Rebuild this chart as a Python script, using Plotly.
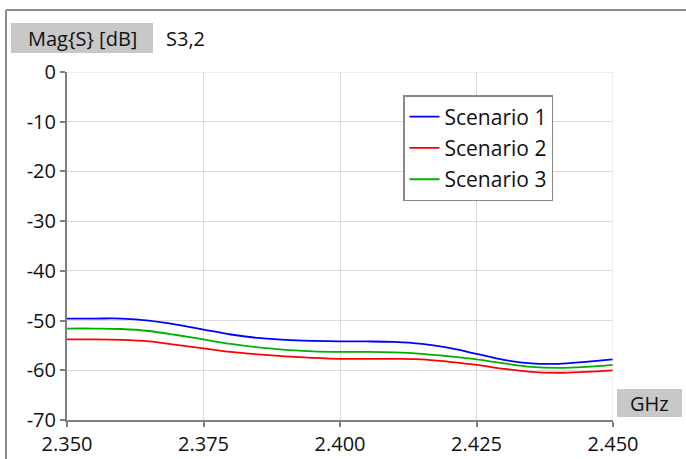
import plotly.graph_objects as go

freq = [2.350, 2.355, 2.360, 2.365, 2.370, 2.375, 2.380, 2.385, 2.390, 2.395, 2.400,
        2.405, 2.410, 2.415, 2.420, 2.425, 2.430, 2.435, 2.440, 2.445, 2.450]
scenario1 = [-49.6, -49.6, -49.6, -50.0, -50.8, -51.8, -52.8, -53.5, -53.9, -54.1, -54.2,
             -54.2, -54.3, -54.7, -55.5, -56.7, -57.9, -58.6, -58.7, -58.3, -57.8]
scenario2 = [-53.8, -53.8, -53.9, -54.2, -54.9, -55.6, -56.3, -56.8, -57.2, -57.5, -57.7,
             -57.7, -57.7, -57.8, -58.3, -58.9, -59.7, -60.3, -60.5, -60.3, -60.0]
scenario3 = [-51.6, -51.6, -51.7, -52.1, -52.9, -53.8, -54.7, -55.4, -55.9, -56.2, -56.3,
             -56.3, -56.4, -56.7, -57.2, -57.8, -58.6, -59.3, -59.5, -59.3, -58.9]
names = ["Scenario 1", "Scenario 2", "Scenario 3"]
colors = ["#0000ff", "#ff0000", "#00b000"]
x_ticks = [2.350, 2.375, 2.400, 2.425, 2.450]
x_ticklabels = ["2.350", "2.375", "2.400", "2.425", "2.450"]
y_ticks = [0, -10, -20, -30, -40, -50, -60, -70]
y_ticklabels = ["0", "-10", "-20", "-30", "-40", "-50", "-60", "-70"]

FONT = "Open Sans"
W, H = 686, 459
L, R, T, B = 67, 73, 72, 39

fig = go.Figure()
for i, (name, ys, c) in enumerate(zip(names, [scenario1, scenario2, scenario3], colors)):
    fig.add_trace(go.Scatter(x=freq, y=ys, mode="lines", name=name, legendgroup=f"g{i}",
                             line=dict(color=c, width=1.8, shape="spline")))


def px(xp):
    return (xp - L) / (W - L - R)


def py(yp):
    return (H - B - yp) / (H - T - B)


fig.update_layout(
    width=W, height=H,
    margin=dict(l=L, r=R, t=T, b=B),
    paper_bgcolor="white", plot_bgcolor="white",
    font=dict(family=FONT, size=20, color="#111111"),
    showlegend=True,
    legend=dict(x=px(403), y=py(95),
                xanchor="left", yanchor="top",
                bordercolor="#888888", borderwidth=1.5, bgcolor="white",
                font=dict(family=FONT, size=21), itemwidth=30,
                tracegroupgap=1),
    xaxis=dict(range=[2.350, 2.450], tickvals=x_ticks, ticktext=x_ticklabels,
               showgrid=True, gridcolor="#dcdcdc", gridwidth=1,
               showline=True, linecolor="#808080", linewidth=2,
               ticks="outside", ticklen=5, tickcolor="#808080", tickwidth=1.5,
               zeroline=False, tickfont=dict(size=20), automargin=False),
    yaxis=dict(range=[-70, 0], tickvals=y_ticks, ticktext=y_ticklabels,
               showgrid=True, gridcolor="#dcdcdc", gridwidth=1,
               showline=True, linecolor="#808080", linewidth=2,
               ticks="outside", ticklen=5, tickcolor="#808080", tickwidth=1.5,
               zeroline=False, tickfont=dict(size=20), automargin=False),
)

# plot area top/right light border
fig.add_shape(type="line", xref="x", yref="y", x0=2.350, x1=2.450, y0=0, y1=0,
              line=dict(color="#dcdcdc", width=1))
fig.add_shape(type="line", xref="x", yref="y", x0=2.450, x1=2.450, y0=-70, y1=0,
              line=dict(color="#dcdcdc", width=1))

# outer frame (left and top edges)
fig.add_shape(type="line", xref="paper", yref="paper", x0=px(6), x1=px(W + 5),
              y0=py(10), y1=py(10), line=dict(color="#8c8c8c", width=2))
fig.add_shape(type="line", xref="paper", yref="paper", x0=px(6), x1=px(6),
              y0=py(10), y1=py(H + 5), line=dict(color="#8c8c8c", width=2))

# Axis title boxes
fig.add_shape(type="rect", xref="paper", yref="paper", x0=px(11), x1=px(153),
              y0=py(53), y1=py(23), fillcolor="#c8c8c8", line=dict(width=0))
fig.add_annotation(xref="paper", yref="paper", x=px(82), y=py(38), text="Mag{S} [dB]",
                   showarrow=False, xanchor="center", yanchor="middle",
                   font=dict(family=FONT, size=20, color="#111111"))
fig.add_annotation(xref="paper", yref="paper", x=px(164), y=py(38), text="S3,2",
                   showarrow=False, xanchor="left", yanchor="middle",
                   font=dict(family=FONT, size=20, color="#111111"))
fig.add_shape(type="rect", xref="paper", yref="paper", x0=px(617), x1=px(682),
              y0=py(417), y1=py(389), fillcolor="#c8c8c8", line=dict(width=0))
fig.add_annotation(xref="paper", yref="paper", x=px(649.5), y=py(403), text="GHz",
                   showarrow=False, xanchor="center", yanchor="middle",
                   font=dict(family=FONT, size=20, color="#111111"))

fig.write_html("out.html", config={"displayModeBar": False},
               post_script="document.body.style.margin='0';")
